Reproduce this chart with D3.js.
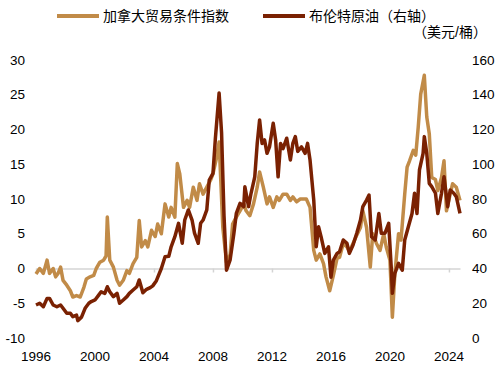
<!DOCTYPE html>
<html>
	<head>
		<meta charset="utf-8">
		<title>加拿大贸易条件与布伦特原油</title>
		<script src="https://cdn.jsdelivr.net/npm/d3@7"></script>
		<style type="text/css">
			body {
				margin: 0;
				background: #fff;
			}
			text {
				font-family: "Liberation Sans", Arial, "Noto Sans CJK SC", sans-serif;
				fill: #000;
			}
		</style>
	</head>
	<body>
		<script type="text/javascript">
			var w = 500;
			var h = 370;

			// 加拿大贸易条件指数 (left axis)
			var totMonths = ["1996-01","1996-04","1996-07","1996-10","1996-12","1997-03","1997-05","1997-07","1997-09","1997-11",
				"1998-02","1998-05","1998-07","1998-10","1999-01","1999-04","1999-06","1999-09","1999-12","2000-02",
				"2000-05","2000-08","2000-10","2000-11","2001-01","2001-04","2001-07","2001-09","2001-12","2002-03",
				"2002-05","2002-08","2002-11","2003-01","2003-03","2003-06","2003-08","2003-11","2004-02","2004-04",
				"2004-07","2004-10","2005-01","2005-03","2005-06","2005-08","2005-10","2006-01","2006-04","2006-06",
				"2006-09","2006-12","2007-02","2007-05","2007-08","2007-11","2008-01","2008-04","2008-06","2008-09",
				"2008-12","2009-03","2009-05","2009-08","2009-11","2010-02","2010-04","2010-07","2010-10","2011-01",
				"2011-03","2011-06","2011-09","2011-11","2012-02","2012-05","2012-07","2012-10","2013-01","2013-04",
				"2013-06","2013-09","2013-12","2014-02","2014-05","2014-08","2014-11","2015-01","2015-04","2015-07",
				"2015-09","2015-12","2016-03","2016-06","2016-08","2016-11","2017-02","2017-04","2017-07","2017-10",
				"2018-01","2018-03","2018-06","2018-09","2018-11","2019-02","2019-05","2019-08","2019-10","2020-01",
				"2020-03","2020-05","2020-08","2020-10","2021-01","2021-03","2021-05","2021-08","2021-10","2021-12",
				"2022-02","2022-05","2022-07","2022-09","2022-11","2023-02","2023-04","2023-07","2023-09","2023-11",
				"2024-02","2024-04","2024-07","2024-10"];
			var totValues = [-0.8, 0.0, -0.7, 1.2, -0.7, 0.0, -1.2, -0.7, 0.2, -1.7,
				-2.4, -3.2, -4.1, -3.9, -4.1, -2.7, -1.5, -1.2, -1.0, 0.0,
				0.9, 1.2, 1.8, 7.4, 1.2, 0.2, -1.7, -2.4, -1.7, -0.3,
				-0.7, 0.7, 1.6, 6.9, 3.1, 4.0, 3.1, 5.5, 4.6, 6.4,
				5.0, 9.3, 7.4, 8.8, 7.4, 15.1, 13.6, 8.8, 9.8, 8.8,
				11.7, 9.8, 12.2, 10.7, 11.7, 12.7, 13.6, 16.0, 18.2, 5.9,
				0.9, 2.0, 6.4, 7.4, 8.3, 9.3, 8.3, 7.6, 9.3, 11.7,
				13.9, 11.7, 9.3, 10.3, 8.8, 10.3, 9.8, 10.7, 10.7, 9.8,
				10.3, 9.6, 10.0, 10.0, 10.0, 8.8, 2.6, 1.2, 2.1, 0.7,
				-1.2, -3.2, -1.0, 1.5, 1.6, 3.6, 3.1, 2.4, 3.6, 4.8,
				5.9, 8.3, 5.9, 0.2, 5.0, 3.6, 2.6, 5.0, 3.1, 1.2,
				-7.0, -0.8, 5.0, 4.1, 10.7, 14.6, 15.5, 17.0, 16.3, 20.3,
				25.1, 27.8, 21.8, 19.4, 13.1, 12.8, 11.2, 13.1, 15.5, 8.3,
				10.7, 12.2, 11.7, 9.8];

			// 布伦特原油, 美元/桶 (right axis)
			var brentMonths = ["1996-01","1996-04","1996-07","1996-10","1996-12","1997-03","1997-06","1997-09","1997-11","1998-02",
				"1998-05","1998-07","1998-10","1998-11","1999-02","1999-05","1999-08","1999-10","2000-01","2000-04",
				"2000-06","2000-09","2000-11","2001-01","2001-04","2001-07","2001-09","2001-12","2002-03","2002-05",
				"2002-08","2002-11","2003-01","2003-04","2003-07","2003-10","2003-12","2004-03","2004-07","2004-10",
				"2005-01","2005-03","2005-06","2005-09","2005-12","2006-02","2006-05","2006-08","2006-10","2007-01",
				"2007-03","2007-05","2007-08","2007-10","2008-01","2008-03","2008-06","2008-08","2008-10","2008-12",
				"2009-03","2009-06","2009-08","2009-11","2010-02","2010-03","2010-06","2010-08","2010-11","2011-01",
				"2011-03","2011-05","2011-07","2011-09","2011-11","2012-02","2012-04","2012-06","2012-08","2012-10",
				"2013-01","2013-04","2013-06","2013-08","2013-10","2014-01","2014-04","2014-06","2014-08","2014-11",
				"2015-01","2015-03","2015-05","2015-08","2015-11","2016-01","2016-03","2016-06","2016-08","2016-11",
				"2017-02","2017-04","2017-07","2017-10","2018-01","2018-03","2018-06","2018-08","2018-10","2019-01",
				"2019-04","2019-06","2019-09","2019-12","2020-02","2020-03","2020-05","2020-08","2020-11","2021-01",
				"2021-04","2021-07","2021-09","2021-11","2022-01","2022-04","2022-05","2022-07","2022-09","2022-11",
				"2023-02","2023-04","2023-07","2023-09","2023-12","2024-02","2024-05","2024-07","2024-10"];
			var brentValues = [19, 20, 18, 22.8, 22.8, 19, 18, 19, 17.1, 14.2,
				14.2, 12.3, 13.2, 10, 12, 17.1, 20, 21, 21.9, 24.7,
				26.6, 25.7, 29.5, 26.6, 23.8, 25.7, 20, 21.9, 23.8, 25.7,
				27.6, 29.5, 33.4, 26, 28, 29, 30, 33, 40, 46.8,
				47, 52.5, 58.3, 66, 54.5, 67.9, 73.7, 67.9, 60.3, 54.5,
				66, 67.9, 73.7, 90.9, 94.8, 115, 141, 118, 70, 39,
				45, 60, 71.7, 77.5, 75.6, 87, 75.6, 83.3, 92.8, 112,
				125.5, 112, 114, 106.3, 110, 123.6, 114, 92.8, 112, 109,
				115, 102.4, 112, 115.9, 107.4, 110, 106.3, 112, 102.4, 79.4,
				52.5, 64, 58.3, 48.7, 52.5, 35, 44.9, 48.7, 49.6, 56.4,
				54.5, 48.7, 53.5, 60.3, 67.9, 75.6, 79.4, 82.3, 58.3, 56.4,
				71.7, 60.3, 60.3, 66, 41, 25.7, 37.2, 43, 39, 56.4,
				64, 71.7, 83.3, 71.7, 96.7, 106.3, 115.9, 106.3, 89, 87.1,
				83.3, 71.7, 83.3, 92.8, 75.6, 85.2, 83.3, 81.3, 71.7];

			var leftTicks = [-10, -5, 0, 5, 10, 15, 20, 25, 30];
			var rightTicks = [0, 20, 40, 60, 80, 100, 120, 140, 160];
			var yearTicks = [1996, 2000, 2004, 2008, 2012, 2016, 2020, 2024];

			var totName = "加拿大贸易条件指数";
			var brentName = "布伦特原油（右轴）";
			var unitLabel = "（美元/桶）";

			var totColor = "#C18B48";
			var brentColor = "#7A2102";

			var parse = d3.timeParse("%Y-%m");
			var tot = totMonths.map(function (m, i) {
				return {date: parse(m), value: totValues[i]};
			});
			var brent = brentMonths.map(function (m, i) {
				return {date: parse(m), value: brentValues[i]};
			});

			var x = d3.scaleTime()
				.domain([parse("1996-01"), parse("2024-10")])
				.range([36, 460]);
			var yL = d3.scaleLinear().domain([-10, 30]).range([338, 60]);
			var yR = d3.scaleLinear().domain([0, 160]).range([338, 60]);

			var svg = d3.select("body")
				.append("svg")
					.attr("width", w)
					.attr("height", h);

			// zero line with year ticks
			var zeroAxis = d3.axisBottom(x)
				.tickValues(yearTicks.map(function (y) { return new Date(y, 0, 1); }))
				.tickSize(4)
				.tickSizeOuter(0)
				.tickFormat("");
			var za = svg.append("g")
				.attr("transform", "translate(0," + yL(0) + ")")
				.call(zeroAxis);
			za.select(".domain").attr("stroke", "#D4D4D4").attr("stroke-width", 1.5);
			za.selectAll(".tick line").attr("stroke", "#D4D4D4").attr("stroke-width", 1.5);

			// left axis labels
			svg.append("g").selectAll("text")
				.data(leftTicks)
				.enter().append("text")
					.attr("x", 25)
					.attr("y", function (d) { return yL(d); })
					.attr("dy", "0.35em")
					.attr("text-anchor", "end")
					.style("font-size", "13.5px")
					.text(function (d) { return d; });

			// right axis labels
			svg.append("g").selectAll("text")
				.data(rightTicks)
				.enter().append("text")
					.attr("x", 472)
					.attr("y", function (d) { return yR(d); })
					.attr("dy", "0.35em")
					.attr("text-anchor", "start")
					.style("font-size", "13.5px")
					.text(function (d) { return d; });

			// year labels
			svg.append("g").selectAll("text")
				.data(yearTicks)
				.enter().append("text")
					.attr("x", function (d) { return x(new Date(d, 0, 1)); })
					.attr("y", 356)
					.attr("dy", "0.35em")
					.attr("text-anchor", "middle")
					.style("font-size", "13.5px")
					.text(function (d) { return d; });

			var lineL = d3.line()
				.x(function (d) { return x(d.date); })
				.y(function (d) { return yL(d.value); });
			var lineR = d3.line()
				.x(function (d) { return x(d.date); })
				.y(function (d) { return yR(d.value); });

			svg.append("path")
				.datum(tot)
				.attr("d", lineL)
				.attr("fill", "none")
				.attr("stroke", totColor)
				.attr("stroke-width", 3.5)
				.attr("stroke-linejoin", "round");

			svg.append("path")
				.datum(brent)
				.attr("d", lineR)
				.attr("fill", "none")
				.attr("stroke", brentColor)
				.attr("stroke-width", 3.5)
				.attr("stroke-linejoin", "round");

			// legend
			var legend = [
				{name: totName, color: totColor, x: 57},
				{name: brentName, color: brentColor, x: 263}
			];
			var lg = svg.append("g").selectAll("g")
				.data(legend)
				.enter().append("g")
					.attr("transform", function (d) { return "translate(" + d.x + ",16)"; });
			lg.append("line")
				.attr("x1", 0)
				.attr("x2", 42)
				.attr("stroke", function (d) { return d.color; })
				.attr("stroke-width", 4);
			lg.append("text")
				.attr("x", 46)
				.attr("dy", "0.35em")
				.style("font-size", "14px")
				.text(function (d) { return d.name; });

			svg.append("text")
				.attr("x", 487)
				.attr("y", 32)
				.attr("dy", "0.35em")
				.attr("text-anchor", "end")
				.style("font-size", "14px")
				.text(unitLabel);
		</script>
	</body>
</html>
